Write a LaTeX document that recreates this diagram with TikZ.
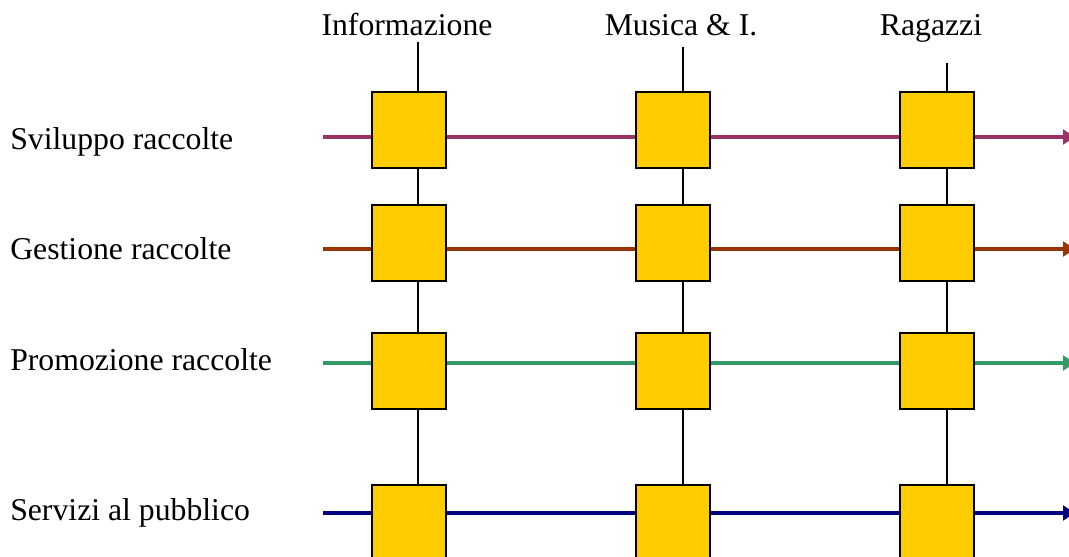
\documentclass[tikz,border=0pt]{standalone}
\usepackage{fontspec}
\setmainfont{Liberation Serif}
\usepackage{xcolor}
\usetikzlibrary{arrows.meta,backgrounds}
\definecolor{giallo}{HTML}{FFCC00}
\definecolor{viola}{HTML}{993366}
\definecolor{ruggine}{HTML}{993300}
\definecolor{verde}{HTML}{339966}
\definecolor{blu}{HTML}{000080}

\begin{document}
\begin{tikzpicture}[x=0.75pt,y=-0.75pt,
    cella/.style={draw,line width=1.5pt,fill=giallo,minimum width=55.5pt,minimum height=57pt,inner sep=0pt},
    flusso/.style={line width=3pt,-{Triangle[length=9pt,width=11pt]}},
    testo/.style={font=\fontsize{23.8}{28}\selectfont,inner sep=0pt}]
  \clip (0,0) rectangle (1069,556);
  % column heads
  \node[testo,anchor=base] (info) at (407,36) {Informazione};
  \node[testo,anchor=base] (musica) at (681,36) {Musica \& I.};
  \node[testo,anchor=base] (ragazzi) at (931,36) {Ragazzi};
  % row heads
  \node[testo,anchor=base west] (sviluppo) at (10,149) {Sviluppo raccolte};
  \node[testo,anchor=base west] (gestione) at (10,259) {Gestione raccolte};
  \node[testo,anchor=base west] (promozione) at (10,370) {Promozione raccolte};
  \node[testo,anchor=base west] (servizi) at (10,520) {Servizi al pubblico};
  % cells
  \node[cella] (s-1) at (409,130) {};
  \node[cella] (s-2) at (673,130) {};
  \node[cella] (s-3) at (937,130) {};
  \node[cella] (g-1) at (409,243) {};
  \node[cella] (g-2) at (673,243) {};
  \node[cella] (g-3) at (937,243) {};
  \node[cella] (p-1) at (409,371) {};
  \node[cella] (p-2) at (673,371) {};
  \node[cella] (p-3) at (937,371) {};
  \node[cella] (v-1) at (409,523) {};
  \node[cella] (v-2) at (673,523) {};
  \node[cella] (v-3) at (937,523) {};
  % line ends
  \coordinate (info-a) at (418,42);
  \coordinate (info-b) at (418,560);
  \coordinate (musica-a) at (683,47);
  \coordinate (musica-b) at (683,560);
  \coordinate (ragazzi-a) at (947,63);
  \coordinate (ragazzi-b) at (947,560);
  \coordinate (sviluppo-a) at (323,137);
  \coordinate (sviluppo-b) at (1075,137);
  \coordinate (gestione-a) at (323,249);
  \coordinate (gestione-b) at (1075,249);
  \coordinate (promozione-a) at (323,363);
  \coordinate (promozione-b) at (1075,363);
  \coordinate (servizi-a) at (323,513);
  \coordinate (servizi-b) at (1075,513);
  \begin{scope}[on background layer]
    \draw[line width=1.5pt] (info-a) -- (info-b);
    \draw[line width=1.5pt] (musica-a) -- (musica-b);
    \draw[line width=1.5pt] (ragazzi-a) -- (ragazzi-b);
    \draw[flusso,viola] (sviluppo-a) -- (sviluppo-b);
    \draw[flusso,ruggine] (gestione-a) -- (gestione-b);
    \draw[flusso,verde] (promozione-a) -- (promozione-b);
    \draw[flusso,blu] (servizi-a) -- (servizi-b);
  \end{scope}
\end{tikzpicture}
\end{document}
